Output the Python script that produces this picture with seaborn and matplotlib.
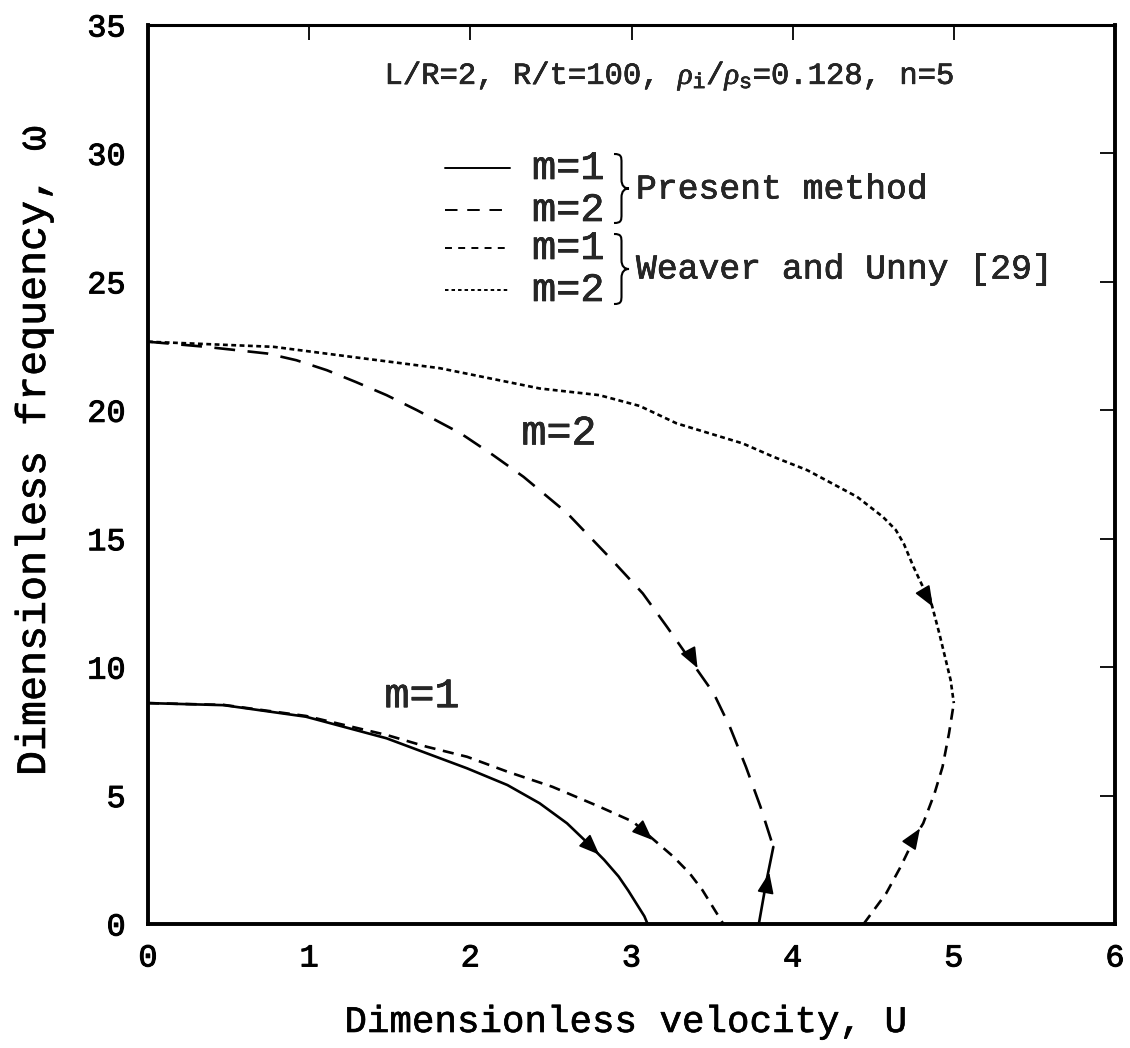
import matplotlib
matplotlib.use("Agg")
import matplotlib.pyplot as plt
import matplotlib.patheffects as pe
import seaborn as sns
import pandas as pd
from matplotlib.path import Path
from matplotlib.patches import PathPatch

# ---------------- data ----------------
u_present_m1 = [0.0, 0.47, 0.98, 1.48, 1.98, 2.23, 2.43, 2.60, 2.72, 2.83, 2.92, 2.98, 3.04, 3.08, 3.10]
w_present_m1 = [8.6, 8.52, 8.07, 7.23, 6.06, 5.41, 4.70, 3.92, 3.20, 2.50, 1.85, 1.30, 0.70, 0.30, 0.0]
u_present_m1_flutter = [3.79, 3.835, 3.88]
w_present_m1_flutter = [0.0, 1.6, 3.0]
u_present_m2 = [0.0, 0.36, 0.74, 0.92, 1.11, 1.29, 1.48, 1.67, 1.94, 2.14, 2.33,
                2.60, 2.87, 3.07, 3.22, 3.38, 3.51, 3.61, 3.71, 3.80, 3.88]
w_present_m2 = [22.67, 22.47, 22.21, 21.95, 21.56, 21.10, 20.59, 20.0, 19.1, 18.26, 17.41,
                16.0, 14.23, 12.87, 11.57, 10.14, 8.98, 7.68, 6.12, 4.57, 3.0]
u_weaver_m1 = [0.0, 0.47, 0.98, 1.48, 1.73, 1.98, 2.23, 2.51, 2.80, 3.01, 3.09, 3.26, 3.36, 3.44, 3.57]
w_weaver_m1 = [8.6, 8.53, 8.1, 7.36, 6.90, 6.51, 5.93, 5.34, 4.57, 3.98, 3.54, 2.62, 1.98, 1.32, 0.0]
u_weaver_m1_flutter = [4.44, 4.58, 4.67, 4.76, 4.81, 4.88, 4.93, 4.97, 5.0]
w_weaver_m1_flutter = [0.0, 1.19, 2.23, 3.4, 3.92, 5.08, 6.12, 7.42, 8.6]
u_weaver_m2 = [0.0, 0.78, 1.3, 1.81, 2.43, 2.80, 3.05, 3.28, 3.69, 3.88, 4.09, 4.40,
               4.56, 4.64, 4.69, 4.75, 4.81, 4.85, 4.91, 4.98, 5.0]
w_weaver_m2 = [22.67, 22.47, 22.05, 21.64, 20.85, 20.59, 20.17, 19.49, 18.71, 18.19, 17.67, 16.63,
               15.85, 15.34, 14.8, 13.9, 13.1, 12.74, 11.31, 9.5, 8.6]

# direction arrows on the curves (tail -> tip)
arrow_tail_u = [2.71, 3.05, 3.36, 3.84, 4.73, 4.82]
arrow_tail_w = [3.25, 3.74, 10.55, 1.5, 3.14, 12.88]
arrow_tip_u = [2.80, 3.13, 3.41, 3.855, 4.79, 4.87]
arrow_tip_w = [2.70, 3.27, 9.96, 2.0, 3.72, 12.35]

x_ticks = [0, 1, 2, 3, 4, 5, 6]
y_ticks = [0, 5, 10, 15, 20, 25, 30, 35]

curve_labels = ["m=1", "m=2"]
curve_label_u = [1.70, 2.55]
curve_label_w = [8.87, 19.1]

legend_rows = ["m=1", "m=2", "m=1", "m=2"]
legend_groups = ["Present method", "Weaver and Unny [29]"]
title_text = r"L/R=2, R/t=100, $\rho_{\rm i}/\rho_{\rm s}$=0.128, n=5"

# ---------------- style ----------------
sns.set_theme(style="white")
plt.rcParams["font.family"] = ["Liberation Mono", "DejaVu Sans"]
plt.rcParams["mathtext.fontset"] = "custom"
plt.rcParams["mathtext.rm"] = "Liberation Mono"
plt.rcParams["mathtext.it"] = "Liberation Serif:italic"
plt.rcParams["mathtext.bf"] = "Liberation Mono:bold"
plt.rcParams["lines.scale_dashes"] = False

THICK = [pe.withStroke(linewidth=0.45, foreground="black")]

W, H = 1130, 1048
AX_L, AX_R, AX_T, AX_B = 148, 1115, 25, 924
fig = plt.figure(figsize=(W / 100, H / 100), dpi=100)
ax = fig.add_axes([AX_L / W, 1 - AX_B / H, (AX_R - AX_L) / W, (AX_B - AX_T) / H])

LW = 1.9
LONG = (0, (15, 9))
SHORT = (0, (8, 5.5))
DOT = (0, (3.5, 2.5))

def draw(u, w, ls):
    df = pd.DataFrame({"U": u, "w": w})
    sns.lineplot(data=df, x="U", y="w", ax=ax, color="black", lw=LW,
                 linestyle=ls, sort=False, estimator=None)

draw(u_present_m1, w_present_m1, "-")
draw(u_present_m1_flutter, w_present_m1_flutter, "-")
draw(u_present_m2, w_present_m2, LONG)
draw(u_weaver_m1, w_weaver_m1, SHORT)
draw(u_weaver_m1_flutter, w_weaver_m1_flutter, SHORT)
draw(u_weaver_m2, w_weaver_m2, DOT)

for tu, tw, hu, hw in zip(arrow_tail_u, arrow_tail_w, arrow_tip_u, arrow_tip_w):
    ax.annotate("", xy=(hu, hw), xytext=(tu, tw),
                arrowprops=dict(arrowstyle="-|>,head_length=0.75,head_width=0.3",
                                color="black", lw=1.2, mutation_scale=17,
                                shrinkA=0, shrinkB=0))

for lab, lu, lw_ in zip(curve_labels, curve_label_u, curve_label_w):
    ax.text(lu, lw_, lab, fontsize=30, ha="center", va="center", path_effects=THICK)

ax.set_xlim(0, 6)
ax.set_ylim(0, 35)
ax.set_xticks(x_ticks)
ax.set_yticks(y_ticks)
ax.set_xticklabels([str(t) for t in x_ticks])
ax.set_yticklabels([str(t) for t in y_ticks])
ax.tick_params(axis="both", direction="in", length=11, width=1.3, color="black",
               top=True, right=True, labelsize=23, labelcolor="black")
ax.tick_params(axis="x", pad=14)
ax.tick_params(axis="y", pad=16)
for lbl in ax.get_xticklabels() + ax.get_yticklabels():
    lbl.set_path_effects([pe.withStroke(linewidth=0.7, foreground="black")])
for side in ["left", "bottom", "right"]:
    ax.spines[side].set_linewidth(2.8)
    ax.spines[side].set_color("black")
ax.spines["top"].set_linewidth(2.2)
ax.spines["top"].set_color("black")

ax.set_xlabel("Dimensionless velocity, U", fontsize=27, color="black", path_effects=THICK)
ax.set_ylabel("Dimensionless frequency, ω", fontsize=30, color="black", path_effects=THICK)
ax.xaxis.set_label_coords(0.494, -(1022 - AX_B) / (AX_B - AX_T), transform=ax.transAxes)
ax.yaxis.set_label_coords(-(AX_L - 34) / (AX_R - AX_L), (AX_B - 451) / (AX_B - AX_T))
ax.xaxis.label.set_va("center")
ax.yaxis.label.set_va("center")

# ---------------- annotations: title + legend with braces ----------------
def axfrac(px, py):
    return ((px - AX_L) / (AX_R - AX_L), (AX_B - py) / (AX_B - AX_T))

ax.text(*axfrac(669, 84), title_text, transform=ax.transAxes, fontsize=22,
        ha="center", va="baseline", path_effects=THICK)

row_y = [168, 210, 248, 290]
row_styles = ["-", (0, (9, 7)), (0, (5, 4.5)), (0, (2.5, 2.2))]
for lab, py, ls in zip(legend_rows, row_y, row_styles):
    x0, y0 = axfrac(445, py)
    x1, _ = axfrac(510, py)
    ax.plot([x0, x1], [y0, y0], transform=ax.transAxes, color="black", lw=1.4,
            linestyle=ls)
    ax.text(*axfrac(532, py), lab, transform=ax.transAxes, fontsize=29,
            ha="left", va="center", path_effects=THICK)

def brace(x0, ytop, ybot, w=15, r=9):
    ym = (ytop + ybot) / 2
    xm = x0 + w / 2
    pts = [
        (x0, ytop), (xm, ytop), (xm, ytop + r * 0.3), (xm, ytop + r),
        (xm, ym - r),
        (xm, ym - r * 0.3), (xm + w * 0.2, ym), (x0 + w, ym),
        (xm + w * 0.2, ym), (xm, ym + r * 0.3), (xm, ym + r),
        (xm, ybot - r),
        (xm, ybot - r * 0.3), (xm, ybot), (x0, ybot),
    ]
    codes = [Path.MOVETO, Path.CURVE4, Path.CURVE4, Path.CURVE4,
             Path.LINETO,
             Path.CURVE4, Path.CURVE4, Path.CURVE4,
             Path.CURVE4, Path.CURVE4, Path.CURVE4,
             Path.LINETO,
             Path.CURVE4, Path.CURVE4, Path.CURVE4]
    verts = [(px / W, 1 - py / H) for px, py in pts]
    fig.add_artist(PathPatch(Path(verts, codes), transform=fig.transFigure,
                             fill=False, lw=1.5, edgecolor="black"))

brace(614, 154, 223)
brace(614, 234, 304)
ax.text(*axfrac(636, 189), legend_groups[0], transform=ax.transAxes, fontsize=25,
        ha="left", va="center", path_effects=THICK)
ax.text(*axfrac(636, 269), legend_groups[1], transform=ax.transAxes, fontsize=25,
        ha="left", va="center", path_effects=THICK)

fig.savefig("out.png", dpi=100, facecolor="white")
